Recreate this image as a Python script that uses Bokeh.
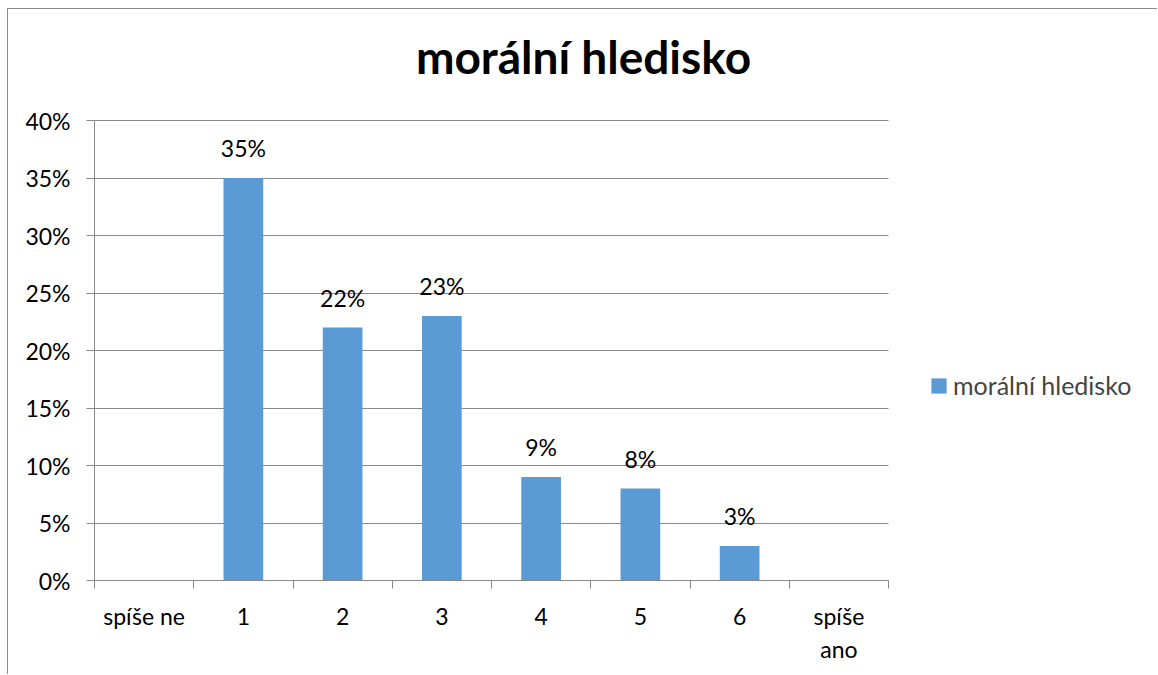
from bokeh.plotting import figure
from bokeh.models import (Range1d, FixedTicker, NumeralTickFormatter, Legend, LegendItem,
                          ColumnDataSource, Label)
from bokeh.core.properties import value
from bokeh.embed import file_html
from bokeh.resources import INLINE

# ---- data ----
categories = ["spíše ne", "1", "2", "3", "4", "5", "6", "spíše\nano"]
values = [None, 0.35, 0.22, 0.23, 0.09, 0.08, 0.03, None]
labels = ["", "35%", "22%", "23%", "9%", "8%", "3%", ""]
series_name = "morální hledisko"
title_text = "morální hledisko"
y_ticks = [0, 0.05, 0.10, 0.15, 0.20, 0.25, 0.30, 0.35, 0.40]
y_max = 0.4

FONT = "Lato"
GRID = "#898989"
BAR = "#5B9BD5"
FS = "23px"

# layout (pixels)
W, H = 1150, 666
LEFT, BOTTOM = 86, 95
PLOT_W, PLOT_H = 794, 460   # size of the value area
FRAME_W = W - LEFT          # frame extends to the right edge (legend lives inside it)
FRAME_H = H - BOTTOM        # frame extends to the top edge (title lives inside it)

n = len(categories)
centers = [i + 0.5 for i in range(n)]
bounds = [i for i in range(n + 1)]

bx = [c for c, v in zip(centers, values) if v is not None]
by = [v for v in values if v is not None]
bl = [l for l, v in zip(labels, values) if v is not None]
src = ColumnDataSource(dict(x=bx, top=by, lab=bl))

p = figure(width=W, height=H, output_backend="svg", toolbar_location=None,
           x_range=Range1d(0, n * FRAME_W / PLOT_W),
           y_range=Range1d(0, y_max * FRAME_H / PLOT_H),
           min_border_left=LEFT, min_border_right=0, min_border_top=0,
           min_border_bottom=BOTTOM)
p.styles = {"margin-left": "7px", "margin-top": "8px",
            "border-left": "1px solid #8a8a8a", "border-top": "1px solid #8a8a8a"}
p.outline_line_color = None
p.background_fill_color = "white"
p.border_fill_color = "white"

# title
p.add_layout(Label(x=489, y=524, x_units="screen", y_units="screen", text=title_text,
                   text_align="center", text_baseline="alphabetic",
                   text_font=FONT, text_font_style="bold", text_font_size="46px",
                   text_color="black"))

r = p.vbar(x="x", top="top", width=0.4, bottom=0, source=src, fill_color=BAR,
           line_color=None)
p.text(x="x", y="top", text="lab", source=src, text_align="center",
       text_baseline="alphabetic", y_offset=-30, text_font=value(FONT),
       text_font_size=FS, text_color="black")

# x axis
p.xaxis.bounds = (0, n)
p.xaxis.ticker = FixedTicker(ticks=centers, minor_ticks=bounds)
p.xaxis.major_label_overrides = {c: lab for c, lab in zip(centers, categories)}
p.xaxis.major_tick_line_color = None
p.xaxis.minor_tick_line_color = GRID
p.xaxis.minor_tick_out = 8
p.xaxis.minor_tick_in = 0
p.xaxis.axis_line_color = GRID
p.xaxis.major_label_text_font = FONT
p.xaxis.major_label_text_font_size = FS
p.xaxis.major_label_text_color = "black"
p.xaxis.major_label_standoff = 13

# y axis
p.yaxis.bounds = (0, y_max)
p.yaxis.ticker = FixedTicker(ticks=y_ticks)
p.yaxis.formatter = NumeralTickFormatter(format="0%")
p.yaxis.major_tick_line_color = GRID
p.yaxis.major_tick_out = 8
p.yaxis.major_tick_in = 0
p.yaxis.minor_tick_line_color = None
p.yaxis.axis_line_color = GRID
p.yaxis.major_label_text_font = FONT
p.yaxis.major_label_text_font_size = FS
p.yaxis.major_label_text_color = "black"
p.yaxis.major_label_standoff = 16

p.xgrid.grid_line_color = None
p.ygrid.ticker = FixedTicker(ticks=y_ticks)
p.ygrid.cross_bounds = (0, n)
p.ygrid.grid_line_color = GRID

legend = Legend(items=[LegendItem(label=series_name, renderers=[r])],
                location=(835, 180), margin=0, padding=0, glyph_width=19, glyph_height=19,
                label_standoff=5, border_line_color=None, background_fill_alpha=0,
                label_text_font=FONT, label_text_font_size="25px")
p.add_layout(legend, "center")

open("out.html", "w").write(file_html(p, INLINE))
